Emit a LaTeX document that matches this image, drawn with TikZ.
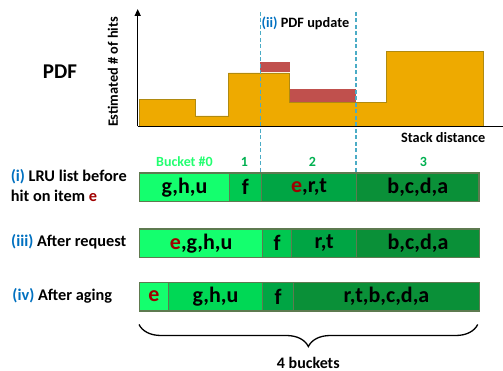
\documentclass[tikz,border=0pt]{standalone}
\usepackage{fontspec}
\setmainfont{Carlito}
\usetikzlibrary{decorations.pathreplacing,arrows.meta}
\definecolor{cA}{HTML}{14FF6E}
\definecolor{cB}{HTML}{00C850}
\definecolor{cC}{HTML}{00A544}
\definecolor{cD}{HTML}{0A9038}
\definecolor{cE}{HTML}{00D855}
\definecolor{cellborder}{HTML}{5E7A50}
\definecolor{lblblue}{HTML}{0070C0}
\definecolor{ered}{HTML}{A00000}
\definecolor{orng}{HTML}{EEAA00}
\definecolor{orngdark}{HTML}{B08A10}
\definecolor{barred}{HTML}{C0504D}
\definecolor{dashblue}{HTML}{4BACC6}
\definecolor{bkt0}{HTML}{22FF70}
\definecolor{bktn}{HTML}{00B050}
\begin{document}
\begin{tikzpicture}[x=1pt,y=-1pt,
  cell/.style={draw=cellborder,line width=1.3pt,anchor=north west,inner sep=0pt,
    minimum height=28.5pt,font=\fontsize{22}{26}\selectfont\bfseries},
  rowlbl/.style={anchor=west,inner sep=0pt,font=\fontsize{16.3}{20}\selectfont\bfseries,align=left},
  smalllbl/.style={inner sep=0pt,font=\fontsize{14.3}{17}\selectfont\bfseries},
  bktlbl/.style={inner sep=0pt,font=\fontsize{14}{17}\selectfont\bfseries},
  vdash/.style={draw=dashblue,dashed,line width=1.2pt,dash pattern=on 4pt off 2.5pt}]
\useasboundingbox (0,0) rectangle (503,371);

% histogram
\draw[fill=orng,draw=orngdark,line width=0.9pt]
  (139,126) -- (139,99.3) -- (195.7,99.3) -- (195.7,116) -- (228.3,116) -- (228.3,73)
  -- (289.7,73) -- (289.7,102.3) -- (386,102.3) -- (386,51.3) -- (483,51.3) -- (483,126) -- cycle;
\fill[barred] (260.3,62) rectangle (289.7,72.5);
\fill[barred] (290.2,88.7) rectangle (355.5,101.8);

% axes
\coordinate (yb) at (137.7,126.5);
\coordinate (yt) at (137.7,9);
\coordinate (xe) at (503,126.5);
\draw[line width=1.5pt,-{Triangle[length=7pt,width=6pt]}] (yb) -- (yt);
\draw[line width=1.5pt] (yb) -- (xe);

% dashed lines
\coordinate (d1t) at (260.3,12);
\coordinate (d1b) at (260.3,172);
\coordinate (d2t) at (356,12);
\coordinate (d2b) at (356,172);
\draw[vdash] (d1t) -- (d1b);
\draw[vdash] (d2t) -- (d2b);

% texts of the chart
\node[inner sep=0pt,font=\fontsize{21}{25}\selectfont\bfseries] (pdf) at (60,71.7) {PDF};
\node[smalllbl,rotate=90] (ylab) at (113,72) {Estimated \# of hits};
\node[smalllbl,anchor=east] (xlab) at (485.5,137.3) {Stack distance};
\node[smalllbl,anchor=west] (upd) at (261.5,23.3) {\textcolor{lblblue}{(ii)} PDF update};

% bucket labels
\node[bktlbl,text=bkt0] (b0) at (184.5,161.7) {Bucket \#0};
\node[bktlbl,text=bktn] (b1) at (244.3,161.7) {1};
\node[bktlbl,text=bktn] (b2) at (312.3,161.7) {2};
\node[bktlbl,text=bktn] (b3) at (423.3,161.7) {3};

% row 1
\node[cell,fill=cA,minimum width=89.7pt] (r1a) at (139,172.3) {g,h,u};
\node[cell,fill=cB,minimum width=32pt] (r1b) at (228.7,172.3) {f};
\node[cell,fill=cC,minimum width=95.3pt] (r1c) at (260.7,172.3) {\textcolor{ered}{e},r,t};
\node[cell,fill=cD,minimum width=122.3pt] (r1d) at (356,172.3) {b,c,d,a};
\node[rowlbl] (l1) at (10.7,185.7) {\textcolor{lblblue}{(i)} LRU list before\\hit on item \textcolor{ered}{e}};

% row 2
\node[cell,fill=cA,minimum width=123pt] (r2a) at (139,228.3) {\textcolor{ered}{e},g,h,u};
\node[cell,fill=cB,minimum width=29pt] (r2b) at (262,228.3) {f};
\node[cell,fill=cC,minimum width=65pt] (r2c) at (291,228.3) {r,t};
\node[cell,fill=cD,minimum width=122.7pt] (r2d) at (356,228.3) {b,c,d,a};
\node[rowlbl] (l2) at (11,241.5) {\textcolor{lblblue}{(iii)} After request};

% row 3
\node[cell,fill=cA,minimum width=28.7pt] (r3a) at (139,281.7) {\textcolor{ered}{e}};
\node[cell,fill=cE,minimum width=94.3pt] (r3b) at (167.7,281.7) {g,h,u};
\node[cell,fill=cC,minimum width=31pt] (r3c) at (262,281.7) {f};
\node[cell,fill=cD,minimum width=185.7pt] (r3d) at (293,281.7) {r,t,b,c,d,a};
\node[rowlbl] (l3) at (12.3,295.5) {\textcolor{lblblue}{(iv)} After aging};

% brace
\coordinate (brl) at (139,324.5);
\coordinate (brr) at (477.7,324.5);
\draw[line width=1.3pt,decorate,decoration={brace,mirror,amplitude=22pt}] (brl) -- (brr);
\node[inner sep=0pt,anchor=base,font=\fontsize{16}{19}\selectfont\bfseries] (fb) at (308.3,368.5) {4 buckets};
\end{tikzpicture}
\end{document}
